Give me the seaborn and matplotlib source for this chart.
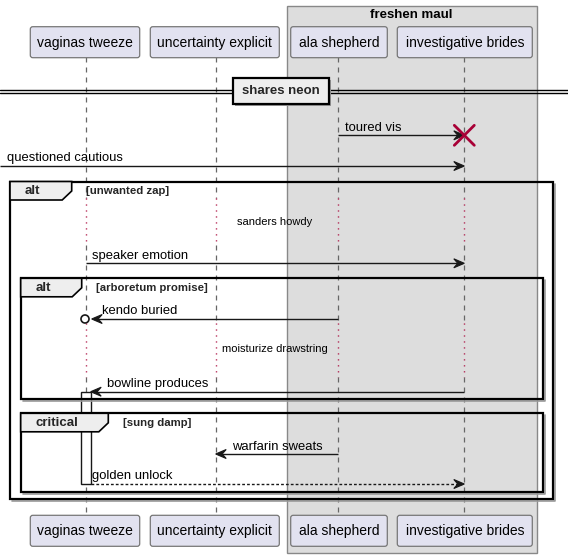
import matplotlib
matplotlib.use("Agg")
import matplotlib.pyplot as plt
import seaborn as sns
import pandas as pd
from matplotlib.patches import FancyBboxPatch, Rectangle, Polygon, Circle

sns.set_theme(style="white")
plt.rcParams['font.family'] = ['Liberation Sans', 'DejaVu Sans']

# 参与者
names = ["vaginas tweeze", "uncertainty explicit", "ala shepherd", "investigative brides"]
life_x = [86, 215.7, 338.3, 464.3]
box_left = [30.3, 150.3, 290.7, 397.3]
box_right = [139.7, 279.3, 387.3, 532.3]

# 消息: 起点 -1 表示从左边界进入
msg_from = [2, -1, 0, 2, 3, 2, 0]
msg_to = [3, 3, 3, 0, 0, 1, 3]
msg_text = ["toured vis", "questioned cautious", "speaker emotion", "kendo buried",
            "bowline produces", "warfarin sweats", "golden unlock"]
msg_y = [135.3, 166, 263.3, 319, 391.7, 454, 484]
msg_dashed = [False, False, False, False, False, False, True]

# 延迟
delay_text = ["sanders howdy", "moisturize drawstring"]
delay_y = [221.7, 349.3]
delay_span = [(198, 245), (323, 376.7)]

# 组合片段
frag_kind = ["alt", "alt", "critical"]
frag_guard = ["[unwanted zap]", "[arboretum promise]", "[sung damp]"]
frag_box = [(10, 181.5, 552.7, 499.3), (20.7, 278.3, 542.7, 399.3), (20.7, 413.3, 542.7, 491.7)]
frag_tab = [71.7, 81.7, 108.3]
frag_guard_x = [86, 95.7, 123.3]

W, H = 568, 557
fig = plt.figure(figsize=(W / 100, H / 100), dpi=100)
ax = fig.add_axes([0, 0, 1, 1])

LINE = '#181818'
RED = '#A80036'

# 分组框
ax.add_patch(Rectangle((286.7, 6), 250, 546.7, facecolor='#DDDDDD', edgecolor='#888888', lw=1, zorder=0))
ax.text(411, 15, "freshen maul", ha='center', va='center', fontsize=9.5, fontweight='bold', color='black')

# 生命线 (虚线段)
segs = []
for i, x in enumerate(life_x):
    pts = [57.3, delay_span[0][0], delay_span[0][1], delay_span[1][0], delay_span[1][1], 515.3]
    for k in range(0, len(pts), 2):
        segs.append({'x': x, 'y': pts[k], 'u': f"{i}-{k}"})
        segs.append({'x': x, 'y': pts[k + 1], 'u': f"{i}-{k}"})
seg_df = pd.DataFrame(segs)
sns.lineplot(data=seg_df, x='x', y='y', units='u', estimator=None, sort=False,
             color='#666666', lw=0.9, ax=ax, zorder=1)
for line in ax.get_lines():
    line.set_dashes((4, 4))
ax.set_xlim(0, W)
ax.set_ylim(H, 0)
ax.axis('off')

for x in life_x:
    for (a, b) in delay_span:
        ax.plot([x, x], [a, b], color=RED, lw=1, dashes=(0.8, 3.5), zorder=1)

# 参与者框
for n, l, r, x in zip(names, box_left, box_right, life_x):
    for top in (26.7, 515.3):
        ax.add_patch(FancyBboxPatch((l, top), r - l, 31, boxstyle="round,pad=0,rounding_size=2.5",
                                    facecolor='#E2E2F0', edgecolor='#777777', lw=0.9, zorder=3))
        ax.text((l + r) / 2, top + 16, n, ha='center', va='center', fontsize=10, color='black', zorder=4)

# 分隔线
ax.plot([0, W], [90, 90], color='black', lw=1, zorder=2)
ax.plot([0, W], [93.3, 93.3], color='black', lw=1, zorder=2)
ax.add_patch(Rectangle((235.3, 79.7), 95.7, 26.6, facecolor='#999999', edgecolor='none', zorder=3))
ax.add_patch(Rectangle((233.3, 77.7), 95.7, 26.6, facecolor='#EEEEEE', edgecolor='black', lw=1.6, zorder=3))
ax.text(281, 91.5, "shares neon", ha='center', va='center', fontsize=9.5, fontweight='bold', zorder=4)

# 激活条 (片段框之下)
ax.add_patch(Rectangle((80.7, 391.7), 10, 92.3, facecolor='white', edgecolor=LINE, lw=1, zorder=4))

# 组合片段
for kind, guard, (l, t, r, b), tab, gx in zip(frag_kind, frag_guard, frag_box, frag_tab, frag_guard_x):
    ax.plot([l + 2, r + 1.8, r + 1.8], [b + 1.8, b + 1.8, t + 2], color='#9A9A9A', lw=1.2, zorder=5)
    ax.add_patch(Rectangle((l, t), r - l, b - t, facecolor='none', edgecolor='black', lw=1.6, zorder=5))
    th = 18.5
    ax.add_patch(Polygon([(l, t), (tab, t), (tab, t + th - 9), (tab - 9.5, t + th), (l, t + th)],
                         closed=True, facecolor='#EEEEEE', edgecolor='black', lw=1.2, zorder=5))
    ax.text(l + 15, t + 10, kind, ha='left', va='center', fontsize=9.5, fontweight='bold', zorder=6)
    ax.text(gx, t + 9.5, guard, ha='left', va='center', fontsize=8.2, fontweight='bold', zorder=6)


def arrow_head(xt, y, direction):
    d = direction
    pts = [(xt, y), (xt - d * 10.5, y - 4.5), (xt - d * 6.5, y), (xt - d * 10.5, y + 4.5)]
    ax.add_patch(Polygon(pts, closed=True, facecolor=LINE, edgecolor=LINE, lw=0.8, zorder=7))


# 消息
for f, t, txt, y, dsh in zip(msg_from, msg_to, msg_text, msg_y, msg_dashed):
    x0 = 0 if f < 0 else life_x[f]
    x1 = life_x[t]
    if f == 0 and y > 391:
        x0 = 90.7
    if t == 0:
        x1 = 90.7 if y > 391 else 91.7
    direction = 1 if x1 > x0 else -1
    kw = dict(color=LINE, lw=1, zorder=7)
    if dsh:
        kw['dashes'] = (2, 1.5)
    ax.plot([x0, x1 - direction * 2], [y, y], solid_capstyle='butt', **kw)
    arrow_head(x1, y, direction)
    tx = min(x0, x1) + (6.5 if direction > 0 else 16.3)
    if f < 0:
        tx = 7
    if txt == "golden unlock":
        tx = 92.3
    if txt == "kendo buried":
        tx = 102.3
    ax.text(tx, y - 4.5, txt, ha='left', va='baseline', fontsize=9.4, color='black', zorder=8)

# 销毁标记
xd, yd = life_x[3], msg_y[0]
ax.plot([xd - 10, xd + 10], [yd - 10, yd + 10], color=RED, lw=2, zorder=8)
ax.plot([xd - 10, xd + 10], [yd + 10, yd - 10], color=RED, lw=2, zorder=8)

# 圆圈端点
ax.add_patch(Circle((85, 319), 4, facecolor='white', edgecolor=LINE, lw=1.2, zorder=8))

# 延迟文本
for txt, y in zip(delay_text, delay_y):
    ax.text(274.5, y, txt, ha='center', va='center', fontsize=8, color='black', zorder=8)

fig.savefig('out.png', dpi=100)
